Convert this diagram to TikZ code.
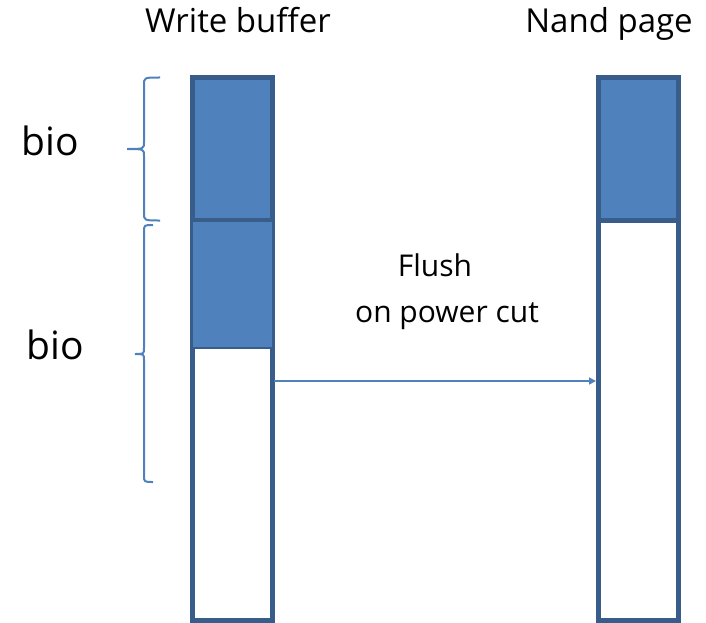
\documentclass[tikz,border=0pt]{standalone}
\usepackage{fontspec}
\setmainfont{Open Sans}
\usetikzlibrary{arrows.meta}
\definecolor{fillblue}{HTML}{4F81BD}
\definecolor{edgeblue}{HTML}{385D8A}
\tikzset{
  colbox/.style={draw=edgeblue, line width=5pt, fill=white},
  topblock/.style={draw=edgeblue, line width=5pt, fill=fillblue},
  midblock/.style={draw=edgeblue, line width=1.5pt, fill=fillblue},
  bracepath/.style={draw=fillblue, line width=2pt},
  flow/.style={draw=fillblue, line width=1.5pt, -{Triangle[length=7pt,width=7pt]}},
  title/.style={font=\fontsize{33}{36}\selectfont, anchor=base, inner sep=0pt},
  biolabel/.style={font=\fontsize{39}{42}\selectfont, anchor=base, inner sep=0pt},
  note/.style={font=\fontsize{30}{34}\selectfont, anchor=base, inner sep=0pt}
}
\begin{document}
\begin{tikzpicture}[x=1pt, y=-1pt]
\useasboundingbox (0,0) rectangle (706,623);
% left column (write buffer)
\draw[colbox] (192.5,77.5) rectangle (272.5,620);
\draw[topblock] (192.5,77.5) rectangle (272.5,220);
\draw[midblock] (192,221) rectangle (273,348);
\coordinate (wbR) at (274,381);
% right column (nand page)
\draw[colbox] (598.5,77.5) rectangle (678,620);
\draw[topblock] (598.5,77.5) rectangle (678,220.5);
\coordinate (npL) at (596,381);
% arrow
\draw[flow] (wbR) -- (npL);
% texts
\node[title] (wb) at (238,33) {Write buffer};
\node[title] (np) at (609,33) {Nand page};
\node[biolabel] (bioA) at (50,155) {bio};
\node[biolabel] (bioB) at (55,359) {bio};
\node[note] (flush) at (435,276) {Flush};
\node[note] (cut) at (447,322) {on power cut};
% braces
\draw[bracepath] (160,77.5) .. controls (144,77.5) .. (144,85)
  -- (144,142) .. controls (144,149) .. (127,149)
  .. controls (144,149) .. (144,156)
  -- (144,213) .. controls (144,220.5) .. (160,220.5);
\draw[bracepath] (153,225) .. controls (144,225) .. (144,232)
  -- (144,348) .. controls (144,354) .. (135,354)
  .. controls (144,354) .. (144,360)
  -- (144,475) .. controls (144,482) .. (153,482);
\end{tikzpicture}
\end{document}
